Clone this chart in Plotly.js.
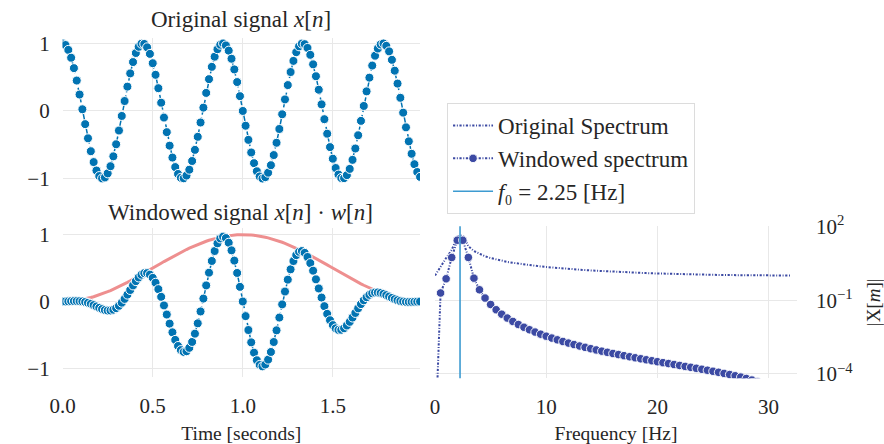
<!DOCTYPE html>
<html>
<head>
<meta charset="utf-8">
<script src="https://cdn.plot.ly/plotly-3.0.1.min.js"></script>
<style>html,body{margin:0;padding:0;background:#fff;}#chart{width:884px;height:444px;}</style>
</head>
<body>
<div id="chart"></div>
<script>
// ---- data ----
const timeSec = [
0, 0.0156, 0.0313, 0.0469, 0.0625, 0.0781, 0.0938, 0.1094, 0.125, 0.1406, 0.1563, 0.1719, 0.1875, 0.2031, 0.2188, 0.2344,
0.25, 0.2656, 0.2813, 0.2969, 0.3125, 0.3281, 0.3438, 0.3594, 0.375, 0.3906, 0.4063, 0.4219, 0.4375, 0.4531, 0.4688, 0.4844,
0.5, 0.5156, 0.5313, 0.5469, 0.5625, 0.5781, 0.5938, 0.6094, 0.625, 0.6406, 0.6563, 0.6719, 0.6875, 0.7031, 0.7188, 0.7344,
0.75, 0.7656, 0.7813, 0.7969, 0.8125, 0.8281, 0.8438, 0.8594, 0.875, 0.8906, 0.9063, 0.9219, 0.9375, 0.9531, 0.9688, 0.9844,
1, 1.0156, 1.0313, 1.0469, 1.0625, 1.0781, 1.0938, 1.1094, 1.125, 1.1406, 1.1563, 1.1719, 1.1875, 1.2031, 1.2188, 1.2344,
1.25, 1.2656, 1.2813, 1.2969, 1.3125, 1.3281, 1.3438, 1.3594, 1.375, 1.3906, 1.4063, 1.4219, 1.4375, 1.4531, 1.4688, 1.4844,
1.5, 1.5156, 1.5313, 1.5469, 1.5625, 1.5781, 1.5938, 1.6094, 1.625, 1.6406, 1.6563, 1.6719, 1.6875, 1.7031, 1.7188, 1.7344,
1.75, 1.7656, 1.7813, 1.7969, 1.8125, 1.8281, 1.8438, 1.8594, 1.875, 1.8906, 1.9063, 1.9219, 1.9375, 1.9531, 1.9688, 1.9844
];

const signalX = [
1.000, 0.976, 0.904, 0.788, 0.634, 0.450, 0.243, 0.025, -0.195, -0.405, -0.596, -0.757, -0.882, -0.964, -0.999, -0.985,
-0.924, -0.818, -0.672, -0.493, -0.290, -0.074, 0.147, 0.360, 0.556, 0.724, 0.858, 0.950, 0.995, 0.992, 0.942, 0.845,
0.707, 0.535, 0.337, 0.122, -0.098, -0.314, -0.514, -0.690, -0.831, -0.933, -0.989, -0.997, -0.957, -0.870, -0.741, -0.576,
-0.383, -0.171, 0.049, 0.267, 0.471, 0.653, 0.803, 0.914, 0.981, 1.000, 0.970, 0.893, 0.773, 0.615, 0.428, 0.219,
0.000, -0.219, -0.428, -0.615, -0.773, -0.893, -0.970, -1.000, -0.981, -0.914, -0.803, -0.653, -0.471, -0.267, -0.049, 0.171,
0.383, 0.576, 0.741, 0.870, 0.957, 0.997, 0.989, 0.933, 0.831, 0.690, 0.514, 0.314, 0.098, -0.122, -0.337, -0.535,
-0.707, -0.845, -0.942, -0.992, -0.995, -0.950, -0.858, -0.724, -0.556, -0.360, -0.147, 0.074, 0.290, 0.493, 0.672, 0.818,
0.924, 0.985, 0.999, 0.964, 0.882, 0.757, 0.596, 0.405, 0.195, -0.025, -0.243, -0.450, -0.634, -0.788, -0.904, -0.976
];

const hannWindow = [
0, 0.0006, 0.0024, 0.0054, 0.0096, 0.0150, 0.0215, 0.0292, 0.0381, 0.0480, 0.0590, 0.0711, 0.0843, 0.0984, 0.1135, 0.1295,
0.1464, 0.1642, 0.1828, 0.2022, 0.2222, 0.2430, 0.2643, 0.2862, 0.3087, 0.3316, 0.3549, 0.3785, 0.4025, 0.4266, 0.4510, 0.4755,
0.5, 0.5245, 0.5490, 0.5734, 0.5975, 0.6215, 0.6451, 0.6684, 0.6913, 0.7138, 0.7357, 0.7570, 0.7778, 0.7978, 0.8172, 0.8358,
0.8536, 0.8705, 0.8865, 0.9016, 0.9157, 0.9289, 0.9410, 0.9520, 0.9619, 0.9708, 0.9785, 0.9850, 0.9904, 0.9946, 0.9976, 0.9994,
1, 0.9994, 0.9976, 0.9946, 0.9904, 0.9850, 0.9785, 0.9708, 0.9619, 0.9520, 0.9410, 0.9289, 0.9157, 0.9016, 0.8865, 0.8705,
0.8536, 0.8358, 0.8172, 0.7978, 0.7778, 0.7570, 0.7357, 0.7138, 0.6913, 0.6684, 0.6451, 0.6215, 0.5975, 0.5734, 0.5490, 0.5245,
0.5, 0.4755, 0.4510, 0.4266, 0.4025, 0.3785, 0.3549, 0.3316, 0.3087, 0.2862, 0.2643, 0.2430, 0.2222, 0.2022, 0.1828, 0.1642,
0.1464, 0.1295, 0.1135, 0.0984, 0.0843, 0.0711, 0.0590, 0.0480, 0.0381, 0.0292, 0.0215, 0.0150, 0.0096, 0.0054, 0.0024, 0.0006
];

const signalWindowed = [
0, 0.0006, 0.0022, 0.0043, 0.0061, 0.0068, 0.0052, 0.0007, -0.0074, -0.0194, -0.0352, -0.0538, -0.0744, -0.0949, -0.1134, -0.1276,
-0.1353, -0.1343, -0.1228, -0.0997, -0.0644, -0.0180, 0.0389, 0.1030, 0.1716, 0.2401, 0.3045, 0.3596, 0.4005, 0.4232, 0.4248, 0.4018,
0.3535, 0.2806, 0.1850, 0.0700, -0.0586, -0.1952, -0.3316, -0.4612, -0.5745, -0.6660, -0.7276, -0.7547, -0.7444, -0.6941, -0.6055, -0.4814,
-0.3269, -0.1489, 0.0434, 0.2407, 0.4313, 0.6066, 0.7556, 0.8701, 0.9436, 0.9708, 0.9492, 0.8796, 0.7656, 0.6117, 0.4270, 0.2189,
0, -0.2189, -0.4270, -0.6117, -0.7656, -0.8796, -0.9492, -0.9708, -0.9436, -0.8701, -0.7556, -0.6066, -0.4313, -0.2407, -0.0434, 0.1489,
0.3269, 0.4814, 0.6055, 0.6941, 0.7444, 0.7547, 0.7276, 0.6660, 0.5745, 0.4612, 0.3316, 0.1952, 0.0586, -0.0700, -0.1850, -0.2806,
-0.3535, -0.4018, -0.4248, -0.4232, -0.4005, -0.3596, -0.3045, -0.2401, -0.1716, -0.1030, -0.0389, 0.0180, 0.0644, 0.0997, 0.1228, 0.1343,
0.1353, 0.1276, 0.1134, 0.0949, 0.0744, 0.0538, 0.0352, 0.0194, 0.0074, -0.0007, -0.0052, -0.0068, -0.0061, -0.0043, -0.0022, -0.0006
];

const freqHz = [
0, 0.5, 1, 1.5, 2, 2.5, 3, 3.5, 4, 4.5, 5, 5.5, 6, 6.5, 7, 7.5, 8, 8.5, 9, 9.5, 10, 10.5, 11, 11.5, 12, 12.5,
13, 13.5, 14, 14.5, 15, 15.5, 16, 16.5, 17, 17.5, 18, 18.5, 19, 19.5, 20, 20.5, 21, 21.5, 22, 22.5, 23, 23.5,
24, 24.5, 25, 25.5, 26, 26.5, 27, 27.5, 28, 28.5, 29, 29.5, 30, 30.5, 31, 31.5, 32
];

const spectrumOriginal = [
1.000, 2.348, 5.129, 10.935, 38.393, 42.859, 15.504, 9.913, 7.452, 6.045, 5.125, 4.471, 3.980, 3.595, 3.286, 3.031,
2.816, 2.634, 2.476, 2.338, 2.217, 2.110, 2.015, 1.929, 1.851, 1.781, 1.717, 1.659, 1.606, 1.557, 1.512, 1.470,
1.432, 1.396, 1.364, 1.333, 1.305, 1.278, 1.254, 1.231, 1.209, 1.190, 1.171, 1.154, 1.138, 1.123, 1.109, 1.097,
1.085, 1.074, 1.064, 1.055, 1.046, 1.039, 1.032, 1.026, 1.020, 1.015, 1.011, 1.008, 1.005, 1.003, 1.001, 1.000, 1.000
];

const spectrumWindowed = [
1e-7, 0.1954, 0.7381, 5.408, 27.18, 27.15, 5.441, 0.7828, 0.2639, 0.1217, 0.06667, 0.04073, 0.02685, 0.01872, 0.01362, 0.01025,
0.007925, 0.006267, 0.005049, 0.004133, 0.003430, 0.002880, 0.002443, 0.002091, 0.001804, 0.001568, 0.001372, 0.001207, 0.001067, 0.0009479, 0.0008456, 0.0007573,
0.0006805, 0.0006134, 0.0005545, 0.0005024, 0.0004563, 0.0004152, 0.0003785, 0.0003456, 0.0003158, 0.0002890, 0.0002645, 0.0002423, 0.0002220, 0.0002033, 0.0001861, 0.0001702,
0.0001554, 0.0001417, 0.0001289, 0.0001168, 0.0001055, 0.00009476, 0.00008459, 0.00007488, 0.00006559, 0.00005666, 0.00004803, 0.00003965, 0.00003148, 0.00002347, 0.00001558, 0.00000777, 1e-12
];

const f0 = 2.25;
const f0LineEnds = [1e-6, 1e3];
const timeTicks = [0, 0.5, 1, 1.5];
const timeTickText = ['0.0', '0.5', '1.0', '1.5'];
const ampTicks = [-1, 0, 1];
const freqTicks = [0, 10, 20, 30];
const magTicks = [1e-4, 1e-1, 1e2];
const magTickText = ['10<sup>−4</sup>', '10<sup>−1</sup>', '10<sup>2</sup>'];

// ---- styling ----
const FONT = 'Liberation Serif, Times New Roman, serif';
const TXT = '#262626';
const GRID = '#e8e8e8';
const BLUE = '#0173b2';
const PINK = '#ee8f8f';
const SPEC = '#3c4aa3';
const F0C = '#3d9bd1';
const specDash = '2.2px,1.6px,1px,1.6px';

const sigMarker = {size: 9, color: BLUE, line: {color: '#ffffff', width: 1}};

const traces = [
  {x: timeSec, y: signalX, xaxis: 'x', yaxis: 'y', mode: 'lines+markers', showlegend: false,
   line: {color: BLUE, width: 1.5, dash: 'dashdot'}, marker: sigMarker, hoverinfo: 'skip'},
  {x: timeSec, y: hannWindow, xaxis: 'x2', yaxis: 'y2', mode: 'lines', showlegend: false,
   line: {color: PINK, width: 3}, hoverinfo: 'skip'},
  {x: timeSec, y: signalWindowed, xaxis: 'x2', yaxis: 'y2', mode: 'lines+markers', showlegend: false,
   line: {color: BLUE, width: 1.5, dash: 'dashdot'}, marker: sigMarker, hoverinfo: 'skip'},
  {x: freqHz, y: spectrumOriginal, xaxis: 'x3', yaxis: 'y3', mode: 'lines', name: 'Original Spectrum',
   line: {color: SPEC, width: 2, dash: specDash}},
  {x: freqHz, y: spectrumWindowed, xaxis: 'x3', yaxis: 'y3', mode: 'lines+markers', name: 'Windowed spectrum',
   line: {color: SPEC, width: 2, dash: specDash},
   marker: {size: 8.5, color: SPEC, line: {color: '#ffffff', width: 0.9}}},
  {x: [f0, f0], y: f0LineEnds, xaxis: 'x3', yaxis: 'y3', mode: 'lines', name: '<i>f</i>₀ = 2.25 [Hz]',
   line: {color: F0C, width: 1.6}}
];

const baseAxis = {
  showgrid: true, gridcolor: GRID, gridwidth: 1, zeroline: false, showline: false,
  ticks: '', tickfont: {family: FONT, size: 21, color: TXT}, fixedrange: true
};

const layout = {
  width: 884, height: 444,
  margin: {l: 0, r: 0, t: 0, b: 0},
  paper_bgcolor: '#ffffff', plot_bgcolor: '#ffffff',
  font: {family: FONT, color: TXT},
  xaxis: Object.assign({}, baseAxis, {domain: [0.0709, 0.4751], range: [0, 1.984], anchor: 'y',
    tickvals: timeTicks, showticklabels: false}),
  yaxis: Object.assign({}, baseAxis, {domain: [0.5721, 0.9144], range: [-1.17, 1.08], anchor: 'x',
    tickvals: ampTicks, ticklabelstandoff: 12}),
  xaxis2: Object.assign({}, baseAxis, {domain: [0.0709, 0.4751], range: [0, 1.984], anchor: 'y2',
    tickvals: timeTicks, ticktext: timeTickText, ticklabelstandoff: 14,
    title: {text: 'Time [seconds]', font: {family: FONT, size: 19.5, color: TXT}, standoff: 9}}),
  yaxis2: Object.assign({}, baseAxis, {domain: [0.1509, 0.4865], range: [-1.13, 1.1], anchor: 'x2',
    tickvals: ampTicks, ticklabelstandoff: 12}),
  xaxis3: Object.assign({}, baseAxis, {domain: [0.4921, 0.9016], range: [0, 32.56], anchor: 'y3',
    tickvals: freqTicks, ticklabelstandoff: 14,
    title: {text: 'Frequency [Hz]', font: {family: FONT, size: 19.5, color: TXT}, standoff: 9}}),
  yaxis3: Object.assign({}, baseAxis, {type: 'log', domain: [0.1480, 0.4903], range: [-4.175, 2.0], anchor: 'x3',
    side: 'right', tickvals: magTicks, ticktext: magTickText, ticklabelstandoff: 18,
    title: {text: '|X[<i>m</i>]|', font: {family: FONT, size: 19, color: TXT}, standoff: 18}}),
  legend: {x: 0.5057, y: 0.768, xanchor: 'left', yanchor: 'top', itemwidth: 40,
    bgcolor: '#ffffff', bordercolor: '#dcdcdc', borderwidth: 1,
    font: {family: FONT, size: 23, color: TXT}, traceorder: 'normal'},
  annotations: [
    {text: 'Original signal <i>x</i>[<i>n</i>]', xref: 'paper', yref: 'paper', x: 0.2727, y: 0.955,
     xanchor: 'center', yanchor: 'middle', showarrow: false, font: {family: FONT, size: 23, color: TXT}},
    {text: 'Windowed signal <i>x</i>[<i>n</i>] · <i>w</i>[<i>n</i>]', xref: 'paper', yref: 'paper', x: 0.2715, y: 0.5203,
     xanchor: 'center', yanchor: 'middle', showarrow: false, font: {family: FONT, size: 23, color: TXT}}
  ]
};

Plotly.newPlot('chart', traces, layout, {displayModeBar: false, staticPlot: true});
</script>
</body>
</html>
